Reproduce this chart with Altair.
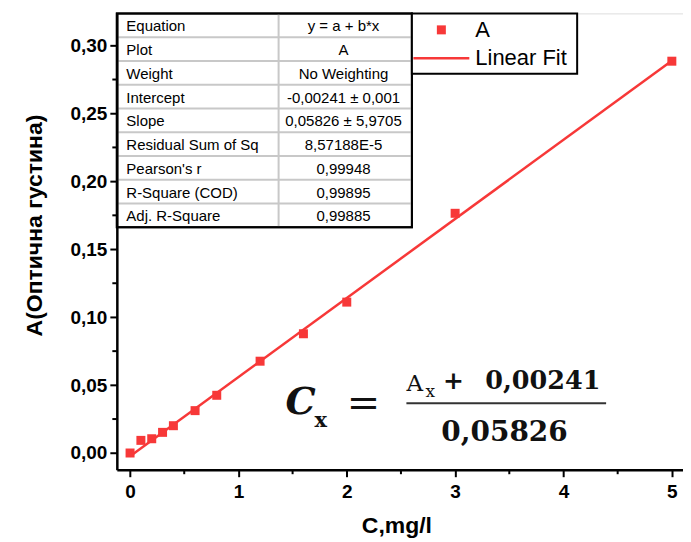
import altair as alt
import pandas as pd

# ---------------- data ----------------
conc = [0.0, 0.1, 0.2, 0.3, 0.4, 0.6, 0.8, 1.2, 1.6, 2.0, 3.0, 5.0]
absorb = [0.0, 0.0093, 0.0105, 0.0152, 0.0201, 0.0312, 0.0425, 0.0676, 0.0878, 0.1111, 0.1765, 0.2885]

fit_x = [0.0, 5.0]
fit_y = [-0.00241, 0.28889]

x_major = [0, 1, 2, 3, 4, 5]
x_minor = [0.5, 1.5, 2.5, 3.5, 4.5]
y_major = [0, 0.05, 0.1, 0.15, 0.2, 0.25, 0.3]
y_minor = [0.025, 0.075, 0.125, 0.175, 0.225, 0.275]

table_labels = ["Equation", "Plot", "Weight", "Intercept", "Slope",
                "Residual Sum of Sq", "Pearson's r", "R-Square (COD)", "Adj. R-Square"]
table_values = ["y = a + b*x", "A", "No Weighting", "-0,00241 ± 0,001", "0,05826 ± 5,9705",
                "8,57188E-5", "0,99948", "0,99895", "0,99885"]

legend_labels = ["A", "Linear Fit"]

RED = "#f73838"
FONT = "Liberation Sans"
SERIF = "DejaVu Serif"

W, H = 567, 457

pts = pd.DataFrame({"C": conc, "A": absorb})
fit = pd.DataFrame({"C": fit_x, "A": fit_y})
tbl = pd.DataFrame({"row": list(range(len(table_labels))), "label": table_labels, "value": table_values})
grid = pd.DataFrame({"k": list(range(1, len(table_labels)))})
xmin_df = pd.DataFrame({"C": x_minor})
ymin_df = pd.DataFrame({"A": y_minor})
dummy = pd.DataFrame({"k": [0]})

ROW_H = 23.8
TBL_W = 295.5
DIV_X = 162
TBL_H = ROW_H * len(table_labels)

x_scale = alt.Scale(domain=[-0.122, 5.103], nice=False, zero=False)
y_scale = alt.Scale(domain=[-0.0123, 0.3237], nice=False, zero=False)

x_axis = alt.Axis(
    values=x_major, format="d",
    tickSize=7, tickWidth=2, tickColor="black", domainColor="black", domainWidth=2.5,
    labelFont=FONT, labelFontSize=19, labelFontWeight="bold", labelColor="black",
    labelPadding=6, labelOverlap=False, labelFlush=False, grid=False,
    title="C,mg/l", titleFont=FONT, titleFontSize=23, titleFontWeight="bold",
    titleColor="black", titleX=280, titleY=63, titleBaseline="alphabetic", zindex=1,
)
y_axis = alt.Axis(
    values=y_major,
    labelExpr="replace(format(datum.value, '.2f'), '.', ',')",
    tickSize=7, tickWidth=2, tickColor="black", domainColor="black", domainWidth=2.5,
    labelFont=FONT, labelFontSize=19, labelFontWeight="bold", labelColor="black",
    labelPadding=3, labelOverlap=False, labelFlush=False, grid=False,
    title="A(Оптична густина)", titleFont=FONT, titleFontSize=23, titleFontWeight="bold",
    titleColor="black", titleX=-82, titleY=212, titleBaseline="middle", zindex=1,
)

line = alt.Chart(fit).mark_line(color=RED, strokeWidth=2.5).encode(
    x=alt.X("C:Q", scale=x_scale, axis=x_axis),
    y=alt.Y("A:Q", scale=y_scale, axis=y_axis),
)
points = alt.Chart(pts).mark_square(size=81, color=RED, opacity=1).encode(
    x=alt.X("C:Q", scale=x_scale),
    y=alt.Y("A:Q", scale=y_scale),
)

# minor ticks (positioned through the data scales)
x_minor_ticks = alt.Chart(xmin_df).mark_rule(color="black", strokeWidth=2).encode(
    x=alt.X("C:Q", scale=x_scale), y=alt.value(H), y2=alt.value(H + 4.5))
y_minor_ticks = alt.Chart(ymin_df).mark_rule(color="black", strokeWidth=2).encode(
    y=alt.Y("A:Q", scale=y_scale), x=alt.value(-4.5), x2=alt.value(0))

# ---------------- fit table ----------------
tbl_bg = alt.Chart(dummy).mark_rect(fill="white", stroke="black", strokeWidth=2).encode(
    x=alt.value(0), x2=alt.value(TBL_W), y=alt.value(0), y2=alt.value(TBL_H))
tbl_grid = alt.Chart(grid).transform_calculate(yp=f"datum.k * {ROW_H}").mark_rule(
    color="#c8c8c8", strokeWidth=2).encode(
    y=alt.Y("yp:Q", scale=None, axis=None), x=alt.value(1.5), x2=alt.value(TBL_W - 1))
tbl_div = alt.Chart(dummy).mark_rule(color="#c8c8c8", strokeWidth=2).encode(
    x=alt.value(DIV_X), y=alt.value(1), y2=alt.value(TBL_H - 1))
tbl_border = alt.Chart(dummy).mark_rect(fillOpacity=0, stroke="black", strokeWidth=2).encode(
    x=alt.value(0), x2=alt.value(TBL_W), y=alt.value(0), y2=alt.value(TBL_H))
tbl_lab = alt.Chart(tbl).transform_calculate(yp=f"(datum.row + 0.5) * {ROW_H} + 1").mark_text(
    align="left", baseline="middle", font=FONT, fontSize=15, color="black").encode(
    x=alt.value(9.5), y=alt.Y("yp:Q", scale=None, axis=None), text="label:N")
tbl_val = alt.Chart(tbl).transform_calculate(yp=f"(datum.row + 0.5) * {ROW_H} + 1").mark_text(
    align="center", baseline="middle", font=FONT, fontSize=15, color="black").encode(
    x=alt.value(227), y=alt.Y("yp:Q", scale=None, axis=None), text="value:N")

# ---------------- legend ----------------
leg_box = alt.Chart(dummy).mark_rect(fill="white", stroke="black", strokeWidth=2).encode(
    x=alt.value(TBL_W), x2=alt.value(461), y=alt.value(0), y2=alt.value(60.5))
leg_sq = alt.Chart(dummy).mark_square(size=81, color=RED, opacity=1).encode(
    x=alt.value(325), y=alt.value(16.5))
leg_ln = alt.Chart(dummy).mark_rule(color=RED, strokeWidth=2.5).encode(
    x=alt.value(297), x2=alt.value(353), y=alt.value(45))
leg_t1 = alt.Chart(dummy).mark_text(text=legend_labels[0], align="left", baseline="middle",
                                    font=FONT, fontSize=22, color="black").encode(
    x=alt.value(359), y=alt.value(17))
leg_t2 = alt.Chart(dummy).mark_text(text=legend_labels[1], align="left", baseline="middle",
                                    font=FONT, fontSize=22, color="black").encode(
    x=alt.value(359), y=alt.value(44.5))


# ---------------- formula ----------------
def txt(s, x, y, size, weight="normal", style="normal", align="left"):
    return alt.Chart(dummy).mark_text(text=s, align=align, baseline="alphabetic", font=SERIF,
                                      fontSize=size, fontWeight=weight, fontStyle=style,
                                      color="#111111").encode(x=alt.value(x), y=alt.value(y))


f_c = txt("C", 169, 401, 38, weight="bold", style="italic")
f_cx = txt("x", 198, 414, 21, weight="bold")
f_eq = txt("=", 247, 403, 40, align="center")
f_a = txt("A", 290, 378, 23)
f_ax = txt("x", 309, 384, 17)
f_plus = txt("+", 337, 376, 25, weight="bold", align="center")
f_num = txt("0,00241", 369, 376, 25.5, weight="bold")
f_bar = alt.Chart(dummy).mark_rule(color="#333333", strokeWidth=2).encode(
    x=alt.value(290), x2=alt.value(490), y=alt.value(390.5))
f_den = txt("0,05826", 325, 428, 28, weight="bold")

chart = alt.layer(
    line, points, x_minor_ticks, y_minor_ticks,
    tbl_bg, tbl_grid, tbl_div, tbl_border, tbl_lab, tbl_val,
    leg_box, leg_sq, leg_ln, leg_t1, leg_t2,
    f_c, f_cx, f_eq, f_a, f_ax, f_plus, f_num, f_bar, f_den,
).properties(
    width=W, height=H,
    autosize=alt.AutoSizeParams(type="none"),
    padding={"left": 109, "top": 5, "right": 0, "bottom": 68},
).configure_view(
    stroke="black", strokeWidth=2.5
).configure(background="white")

chart.save("out.html", embed_options={"renderer": "svg", "actions": False})
